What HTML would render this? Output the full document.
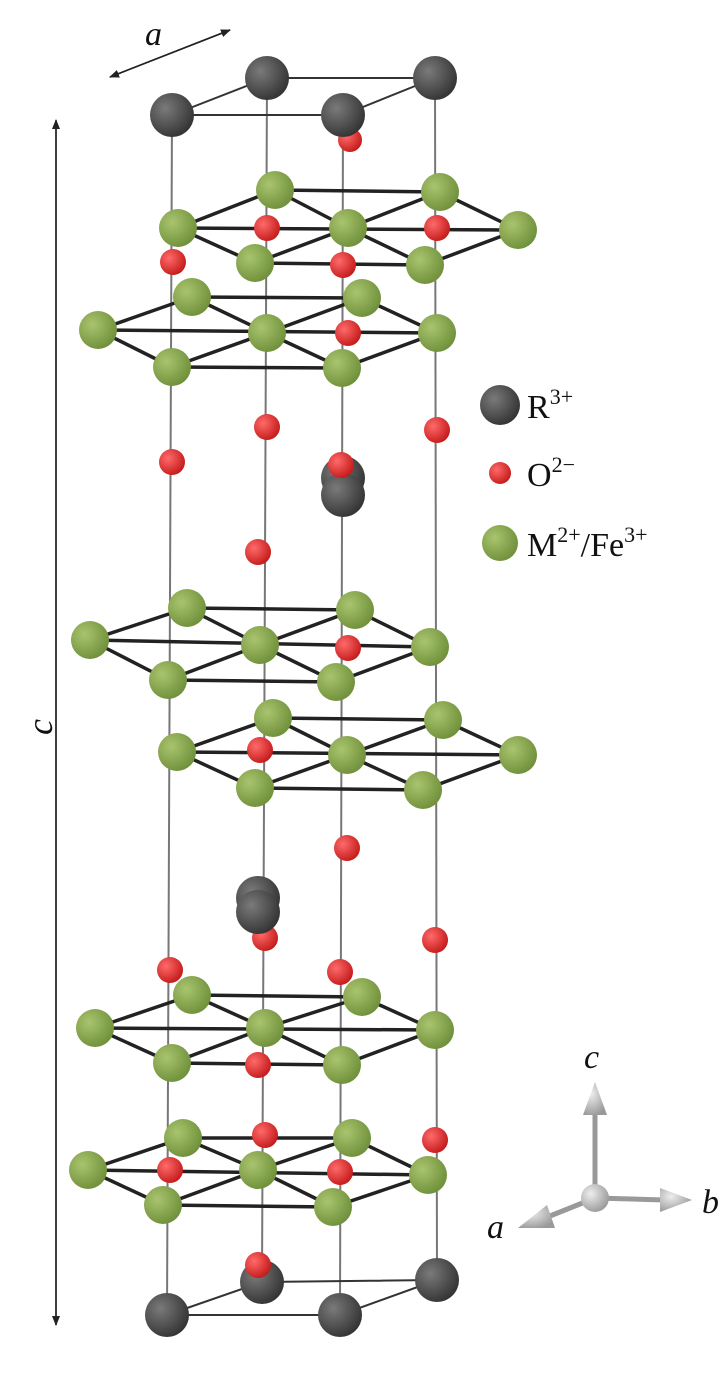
<!DOCTYPE html>
<html><head><meta charset="utf-8"><style>
html,body{margin:0;padding:0;background:#fff;}
svg{display:block;}
text{font-family:"Liberation Serif",serif;fill:#111;}
</style></head><body>
<svg width="722" height="1379" viewBox="0 0 722 1379" xmlns="http://www.w3.org/2000/svg">
<defs>
<radialGradient id="gG" cx="0.35" cy="0.35" r="0.7"><stop offset="0" stop-color="#a9c46e"/><stop offset="1" stop-color="#6f8f3a"/></radialGradient>
<radialGradient id="gR" cx="0.35" cy="0.35" r="0.7"><stop offset="0" stop-color="#ff6a6a"/><stop offset="1" stop-color="#c41a1a"/></radialGradient>
<radialGradient id="gK" cx="0.35" cy="0.35" r="0.7"><stop offset="0" stop-color="#7a7a7a"/><stop offset="1" stop-color="#333"/></radialGradient>
<radialGradient id="gW" cx="0.35" cy="0.35" r="0.7"><stop offset="0" stop-color="#eee"/><stop offset="1" stop-color="#999"/></radialGradient>
<marker id="ar" markerWidth="10" markerHeight="8" refX="9" refY="4" orient="auto" markerUnits="userSpaceOnUse"><path d="M0,0 L10,4 L0,8 Z" fill="#222"/></marker>
</defs>
<!-- verticals -->
<g stroke="#777" stroke-width="2">
<line x1="172" y1="115" x2="167" y2="1315"/>
<line x1="267" y1="78" x2="262" y2="1282"/>
<line x1="343" y1="115" x2="340" y2="1315"/>
<line x1="435" y1="78" x2="437" y2="1280"/>
</g>
<g stroke="#333" stroke-width="2" fill="none">
<path d="M172,115 L267,78 L435,78 L343,115 Z"/>
<path d="M167,1315 L262,1282 L437,1280 L340,1315 Z"/>
</g>
<!-- c arrow -->
<line x1="56" y1="125" x2="56" y2="1325" stroke="#222" stroke-width="1.5" marker-end="url(#ar)"/>
<line x1="56" y1="1325" x2="56" y2="120" stroke="#222" stroke-width="1.5" marker-end="url(#ar)"/>
<text x="42" y="745" font-size="36" font-style="italic" transform="rotate(-90 42 735)">c</text>
<!-- a arrow -->
<line x1="110" y1="77" x2="230" y2="30" stroke="#222" stroke-width="1.5" marker-end="url(#ar)"/>
<line x1="230" y1="30" x2="110" y2="77" stroke="#222" stroke-width="1.5" marker-end="url(#ar)"/>
<text x="145" y="45" font-size="34" font-style="italic">a</text>
<!-- mesh layers -->
<g stroke="#222" stroke-width="3.5" fill="none" stroke-linejoin="round">
<path d="M275,190 L440,192 M178,228 L518,230 M255,263 L425,265 M178,228 L275,190 L348,228 L440,192 L518,230 M178,228 L255,263 L348,228 L425,265 L518,230"/>
<path d="M192,297 L362,298 M98,330 L437,333 M172,367 L342,368 M98,330 L192,297 L267,333 L362,298 L437,333 M98,330 L172,367 L267,333 L342,368 L437,333"/>
<path d="M187,608 L355,610 M90,640 L430,647 M168,680 L336,682 M90,640 L187,608 L260,645 L355,610 L430,647 M90,640 L168,680 L260,645 L336,682 L430,647"/>
<path d="M273,718 L443,720 M177,752 L518,755 M255,788 L423,790 M177,752 L273,718 L347,755 L443,720 L518,755 M177,752 L255,788 L347,755 L423,790 L518,755"/>
<path d="M192,995 L362,997 M95,1028 L435,1030 M172,1063 L342,1065 M95,1028 L192,995 L265,1028 L362,997 L435,1030 M95,1028 L172,1063 L265,1028 L342,1065 L435,1030"/>
<path d="M183,1138 L352,1138 M88,1170 L428,1175 M163,1205 L333,1207 M88,1170 L183,1138 L258,1170 L352,1138 L428,1175 M88,1170 L163,1205 L258,1170 L333,1207 L428,1175"/>
</g>
<!-- R atoms back -->
<g fill="url(#gK)">
<circle cx="267" cy="78" r="22"/><circle cx="435" cy="78" r="22"/>
<circle cx="262" cy="1282" r="22"/><circle cx="437" cy="1280" r="22"/>
</g>
<!-- O atoms -->
<g fill="url(#gR)">
<circle cx="350" cy="140" r="12"/><circle cx="173" cy="262" r="13"/><circle cx="172" cy="462" r="13"/><circle cx="267" cy="427" r="13"/><circle cx="437" cy="430" r="13"/><circle cx="258" cy="552" r="13"/><circle cx="347" cy="848" r="13"/><circle cx="265" cy="938" r="13"/><circle cx="435" cy="940" r="13"/><circle cx="170" cy="970" r="13"/><circle cx="340" cy="972" r="13"/><circle cx="265" cy="1135" r="13"/><circle cx="435" cy="1140" r="13"/>
</g>
<!-- green atoms -->
<g fill="url(#gG)">
<circle cx="275" cy="190" r="19"/><circle cx="440" cy="192" r="19"/><circle cx="178" cy="228" r="19"/><circle cx="348" cy="228" r="19"/><circle cx="518" cy="230" r="19"/><circle cx="255" cy="263" r="19"/><circle cx="425" cy="265" r="19"/>
<circle cx="192" cy="297" r="19"/><circle cx="362" cy="298" r="19"/><circle cx="98" cy="330" r="19"/><circle cx="267" cy="333" r="19"/><circle cx="437" cy="333" r="19"/><circle cx="172" cy="367" r="19"/><circle cx="342" cy="368" r="19"/>
<circle cx="187" cy="608" r="19"/><circle cx="355" cy="610" r="19"/><circle cx="90" cy="640" r="19"/><circle cx="260" cy="645" r="19"/><circle cx="430" cy="647" r="19"/><circle cx="168" cy="680" r="19"/><circle cx="336" cy="682" r="19"/>
<circle cx="273" cy="718" r="19"/><circle cx="443" cy="720" r="19"/><circle cx="177" cy="752" r="19"/><circle cx="347" cy="755" r="19"/><circle cx="518" cy="755" r="19"/><circle cx="255" cy="788" r="19"/><circle cx="423" cy="790" r="19"/>
<circle cx="192" cy="995" r="19"/><circle cx="362" cy="997" r="19"/><circle cx="95" cy="1028" r="19"/><circle cx="265" cy="1028" r="19"/><circle cx="435" cy="1030" r="19"/><circle cx="172" cy="1063" r="19"/><circle cx="342" cy="1065" r="19"/>
<circle cx="183" cy="1138" r="19"/><circle cx="352" cy="1138" r="19"/><circle cx="88" cy="1170" r="19"/><circle cx="258" cy="1170" r="19"/><circle cx="428" cy="1175" r="19"/><circle cx="163" cy="1205" r="19"/><circle cx="333" cy="1207" r="19"/>
</g>
<!-- O atoms front -->
<g fill="url(#gR)">
<circle cx="267" cy="228" r="13"/><circle cx="437" cy="228" r="13"/><circle cx="343" cy="265" r="13"/><circle cx="348" cy="333" r="13"/><circle cx="348" cy="648" r="13"/><circle cx="260" cy="750" r="13"/><circle cx="258" cy="1065" r="13"/><circle cx="170" cy="1170" r="13"/><circle cx="340" cy="1172" r="13"/>
</g>
<!-- R atoms -->
<g fill="url(#gK)">
<circle cx="172" cy="115" r="22"/><circle cx="343" cy="115" r="22"/>
<circle cx="343" cy="478" r="22"/><circle cx="343" cy="495" r="22"/>
<circle cx="258" cy="898" r="22"/><circle cx="258" cy="912" r="22"/>
<circle cx="167" cy="1315" r="22"/><circle cx="340" cy="1315" r="22"/>
</g>
<circle cx="341" cy="465" r="13" fill="url(#gR)"/>
<circle cx="258" cy="1265" r="13" fill="url(#gR)"/>
<!-- legend -->
<circle cx="500" cy="405" r="20" fill="url(#gK)"/>
<text x="527" y="418" font-size="34">R<tspan font-size="22" dy="-14">3+</tspan></text>
<circle cx="500" cy="473" r="11" fill="url(#gR)"/>
<text x="527" y="486" font-size="34">O<tspan font-size="22" dy="-14">2−</tspan></text>
<circle cx="500" cy="543" r="18" fill="url(#gG)"/>
<text x="527" y="556" font-size="34">M<tspan font-size="22" dy="-14">2+</tspan><tspan dy="14">/Fe</tspan><tspan font-size="22" dy="-14">3+</tspan></text>
<!-- axes -->
<g stroke="#999" stroke-width="5">
<line x1="595" y1="1198" x2="595" y2="1110"/>
<line x1="595" y1="1198" x2="665" y2="1200"/>
<line x1="595" y1="1198" x2="545" y2="1218"/>
</g>
<g fill="url(#gW)">
<path d="M583,1115 L595,1082 L607,1115 Z"/>
<path d="M660,1188 L692,1200 L660,1212 Z"/>
<path d="M547,1205 L518,1228 L555,1228 Z"/>
<circle cx="595" cy="1198" r="14"/>
</g>
<text x="584" y="1068" font-size="34" font-style="italic">c</text>
<text x="702" y="1213" font-size="34" font-style="italic">b</text>
<text x="487" y="1238" font-size="34" font-style="italic">a</text>
</svg>
</body></html>
